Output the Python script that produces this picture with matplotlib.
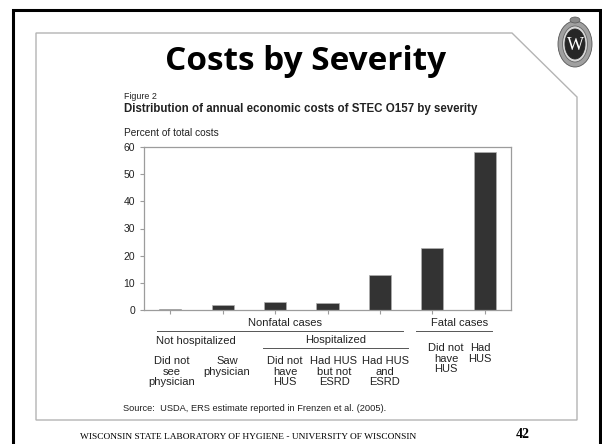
import matplotlib
matplotlib.use("Agg")
import matplotlib.pyplot as plt
from matplotlib.patches import Polygon, Ellipse
from matplotlib.lines import Line2D

# Share of annual STEC O157 costs by case severity (percent)
categories = [
    "Did not\nsee\nphysician", "Saw\nphysician",
    "Did not\nhave\nHUS", "Had HUS\nbut not\nESRD", "Had HUS\nand\nESRD",
    "Did not\nhave\nHUS", "Had\nHUS",
]
percent_of_costs = [0.5, 1.7, 2.8, 2.5, 13.0, 23.0, 58.0]
y_ticks = [0, 10, 20, 30, 40, 50, 60]
outcome_groups = ["Nonfatal cases", "Fatal cases"]
care_groups = ["Not hospitalized", "Hospitalized"]

W, H = 602, 444
SANS = "Liberation Sans"
INK = "#222222"


def fxy(x, y):
    """Pixel position (from top-left) to figure fraction."""
    return x / W, 1 - y / H


def ftext(x, y, s, **kw):
    fig.text(*fxy(x, y), s, **kw)


def fline(xs, ys, **kw):
    pts = [fxy(x, y) for x, y in zip(xs, ys)]
    fig.add_artist(Line2D([p[0] for p in pts], [p[1] for p in pts],
                          transform=fig.transFigure, **kw))


fig = plt.figure(figsize=(W / 100, H / 100), dpi=100)
fig.patch.set_facecolor("white")

# slide frame and the panel holding the figure
fline([13, 13, 600, 600], [450, 10, 10, 450], color="black", lw=2.2,
      solid_joinstyle="miter")
panel = [fxy(x, y) for x, y in [(36, 420), (36, 33), (512, 33), (577, 97), (577, 420)]]
fig.add_artist(Polygon(panel, closed=True, fill=False, ec="#b4b4b4", lw=1.0,
                       transform=fig.transFigure))

# crest in the top-right corner
for w, h, fc, ec in [(34, 46, "#a0a0a0", "#555555"), (25, 36, "#d8d8d8", "#666666"),
                     (20, 30, "#262626", "#262626")]:
    fig.add_artist(Ellipse(fxy(575, 44), w / W, h / H, fc=fc, ec=ec, lw=0.6,
                           transform=fig.transFigure))
fig.add_artist(Ellipse(fxy(575, 20), 10 / W, 6 / H, fc="#8a8a8a", ec="#555555",
                       lw=0.5, transform=fig.transFigure))
ftext(575, 45, "W", ha="center", va="center", color="white", fontsize=13,
      family="Liberation Serif")

ftext(306, 70, "Costs by Severity", ha="center", va="baseline", fontsize=24,
      fontweight="bold", family="Open Sans", color="black")

ftext(124, 99, "Figure 2", fontsize=6.4, family=SANS, color=INK, va="baseline")
ftext(124, 112, "Distribution of annual economic costs of STEC O157 by severity",
      fontsize=8.3, fontweight="bold", family=SANS, color=INK, va="baseline")
ftext(124, 136, "Percent of total costs", fontsize=7.3, family=SANS,
      color=INK, va="baseline")

# bar chart
ax = fig.add_axes([144 / W, 1 - 310 / H, (511 - 144) / W, (310 - 147) / H])
positions = list(range(len(percent_of_costs)))
ax.bar(positions, percent_of_costs, width=0.42, color="#333333",
       edgecolor="#b0b0b0", linewidth=0.5)
ax.set_xlim(-0.5, len(positions) - 0.5)
ax.set_ylim(y_ticks[0], y_ticks[-1])
ax.set_yticks(y_ticks)
ax.set_xticks(positions)
ax.set_xticklabels([])
for side in ax.spines.values():
    side.set_color("#9c9c9c")
    side.set_linewidth(0.9)
ax.tick_params(axis="both", color="#9c9c9c", width=0.8, length=3, direction="out")
ax.tick_params(axis="y", labelsize=7.5, labelcolor=INK, pad=3.5)
for lab in ax.get_yticklabels():
    lab.set_family(SANS)

# group headers and brackets under the axis
ftext(285, 326, outcome_groups[0], ha="center", va="baseline", fontsize=8,
      family=SANS, color=INK)
ftext(460, 326, outcome_groups[1], ha="center", va="baseline", fontsize=8,
      family=SANS, color=INK)
fline([157, 403], [331, 331], color="#555555", lw=0.7)
fline([416, 492], [331, 331], color="#555555", lw=0.7)
ftext(196, 344, care_groups[0], ha="center", va="baseline", fontsize=8,
      family=SANS, color=INK)
ftext(336, 343, care_groups[1], ha="center", va="baseline", fontsize=8,
      family=SANS, color=INK)
fline([263, 408], [348, 348], color="#555555", lw=0.7)

label_x = [172, 227, 285, 334, 385, 446, 480]
label_top = [356, 356, 356, 356, 356, 343, 343]
for x, top, text in zip(label_x, label_top, categories):
    ftext(x, top, text, ha="center", va="top", fontsize=8, family=SANS,
          color=INK, linespacing=1.08)

ftext(123, 411, "Source:  USDA, ERS estimate reported in Frenzen et al. (2005).",
      fontsize=6.7, family=SANS, color=INK, va="baseline")

# footer
ftext(80, 439, "WISCONSIN STATE LABORATORY OF HYGIENE - UNIVERSITY OF WISCONSIN",
      fontsize=6.75, family="Liberation Serif", color="black", va="baseline")
ftext(523, 438, "42", ha="center", va="baseline", fontsize=10, fontweight="bold",
      family="Liberation Serif", color="black")

fig.savefig("out.png", dpi=100)
